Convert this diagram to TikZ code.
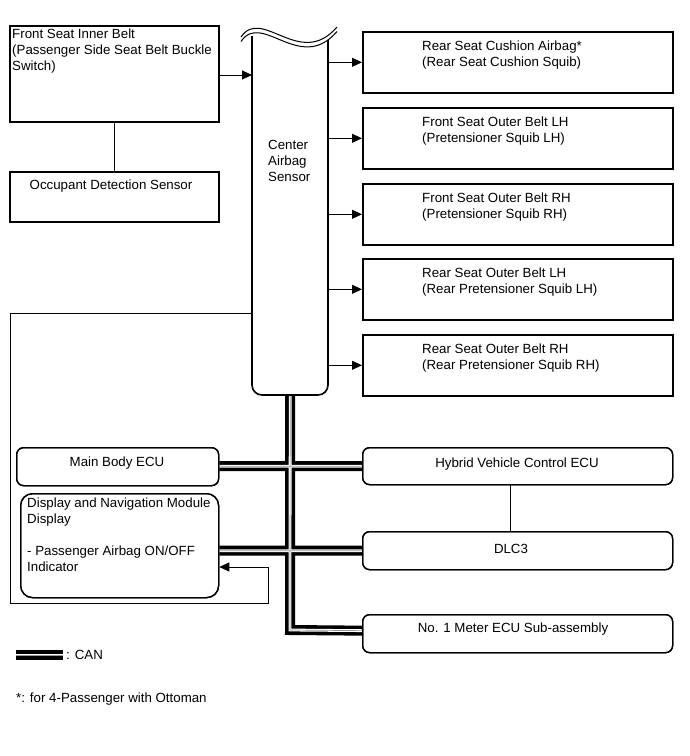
\documentclass[tikz,border=0pt]{standalone}
\usepackage{fontspec}
\setmainfont{Liberation Sans}
\usetikzlibrary{arrows.meta}
\begin{document}
\begin{tikzpicture}[x=1pt,y=-1pt,
  font=\fontsize{13.3pt}{16pt}\selectfont,
  box/.style={draw, line width=1.6pt, inner sep=0pt, anchor=north west},
  rbox/.style={draw, line width=1.3pt, inner sep=0pt, anchor=north west, rounded corners=7pt},
  txt/.style={inner sep=0pt, align=left},
  thin/.style={line width=0.9pt},
  arr/.style={line width=0.9pt, -{Triangle[length=10pt,width=9pt]}},
  busA/.style={line width=10pt, black, line join=miter},
  busB/.style={line width=2.8pt, white, line join=miter},
  busC/.style={line width=0.7pt, black!40, line join=miter}
]
\useasboundingbox (0,0) rectangle (690,756);

% boxes
\node[box, minimum width=209pt, minimum height=96pt] (fsib) at (9,25) {};
\node[box, minimum width=209pt, minimum height=50pt] (ods) at (9,171) {};
\node[minimum width=76pt, minimum height=360pt, inner sep=0pt, anchor=north west] (cas) at (252,35) {};
\node[box, minimum width=310pt, minimum height=61pt] (r1) at (362,31) {};
\node[box, minimum width=310pt, minimum height=61pt] (r2) at (362,107) {};
\node[box, minimum width=310pt, minimum height=61pt] (r3) at (362,183) {};
\node[box, minimum width=310pt, minimum height=61pt] (r4) at (362,258) {};
\node[box, minimum width=310pt, minimum height=61pt] (r5) at (362,334) {};

\node[rbox, minimum width=202pt, minimum height=38pt] (mb) at (16,447) {};
\node[rbox, minimum width=198pt, minimum height=104pt, rounded corners=12pt] (disp) at (20,493) {};
\node[rbox, minimum width=310pt, minimum height=37pt] (hv) at (362,447) {};
\node[rbox, minimum width=310pt, minimum height=38pt] (dlc) at (362,531) {};
\node[rbox, minimum width=310pt, minimum height=38pt] (mtr) at (362,614) {};

% CAN bus (three layers)
\def\buspath{(cas.south) -- (290,630) -- ([yshift=3pt]mtr.west)
  (mb.east |- hv.west) -- (hv.west)
  (disp.east |- dlc.west) -- (dlc.west)}
\draw[busA] \buspath;
\draw[busB] \buspath;
\draw[busC] \buspath;
% box borders drawn again over the bus ends
\node[rbox, minimum width=202pt, minimum height=38pt] (mbb) at (16,447) {};
\node[rbox, minimum width=198pt, minimum height=104pt, rounded corners=12pt] (dispb) at (20,493) {};
\node[rbox, minimum width=310pt, minimum height=37pt] (hvb) at (362,447) {};
\node[rbox, minimum width=310pt, minimum height=38pt] (dlcb) at (362,531) {};
\node[rbox, minimum width=310pt, minimum height=38pt] (mtrb) at (362,614) {};

% center airbag sensor outline
\draw[line width=1.6pt, rounded corners=10pt] (252,33) -- (252,395) -- (328,395) -- (328,40);
\draw[line width=1pt, fill=white] (241,37) .. controls (262,6) and (300,70) .. (337,27);
\draw[line width=1pt] (241,41.5) .. controls (262,10.5) and (300,74.5) .. (337,31.5);

% texts
\node[txt, anchor=north west] (t1) at (12,29) {Front Seat Inner Belt\\(Passenger Side Seat Belt Buckle\\Switch)};
\node[txt] (t2) at (111,186) {Occupant Detection Sensor};
\node[txt, anchor=west] (t3) at (268,161) {Center\\Airbag\\Sensor};
\node[txt, anchor=north west] (t4) at (422,41) {Rear Seat Cushion Airbag*\\(Rear Seat Cushion Squib)};
\node[txt, anchor=north west] (t5) at (422,117) {Front Seat Outer Belt LH\\(Pretensioner Squib LH)};
\node[txt, anchor=north west] (t6) at (422,193) {Front Seat Outer Belt RH\\(Pretensioner Squib RH)};
\node[txt, anchor=north west] (t7) at (422,268) {Rear Seat Outer Belt LH\\(Rear Pretensioner Squib LH)};
\node[txt, anchor=north west] (t8) at (422,344) {Rear Seat Outer Belt RH\\(Rear Pretensioner Squib RH)};
\node[txt] (t9) at (117,463) {Main Body ECU};
\node[txt, anchor=north west] (t10) at (27,498) {Display and Navigation Module\\Display\\[16pt]- Passenger Airbag ON/OFF\\Indicator};
\node[txt] (t11) at (517,464) {Hybrid Vehicle Control ECU};
\node[txt] (t12) at (511,549) {DLC3};
\node[txt] (t13) at (513,629) {No. 1 Meter ECU Sub-assembly};

% connectors
\draw[thin] (fsib.south -| 114,0) -- (ods.north -| 114,0);
\draw[arr] (fsib.east |- 0,75) -- (cas.west |- 0,75);
\foreach \b in {r1,r2,r3,r4,r5}
  \draw[arr] (cas.east |- \b.west) -- (\b.west);
\draw[thin] (hv.south -| 510,0) -- (dlc.north -| 510,0);
\coordinate (lA) at (252,313);
\coordinate (lB) at (10,313);
\coordinate (lC) at (10,603);
\coordinate (lD) at (268,603);
\coordinate (lE) at (268,567);
\draw[arr] (lA) -- (lB) -- (lC) -- (lD) -- (lE) -- (disp.east |- lE);

% legend
\coordinate (lg1) at (16,655);
\coordinate (lg2) at (63,655);
\draw[busA] (lg1) -- (lg2);
\draw[busB] (lg1) -- (lg2);
\draw[busC] (lg1) -- (lg2);
\node[txt, anchor=west] (t14) at (66,655) {: CAN};
\node[txt, anchor=west] (t15) at (16,699) {*: for 4-Passenger with Ottoman};
\end{tikzpicture}
\end{document}
